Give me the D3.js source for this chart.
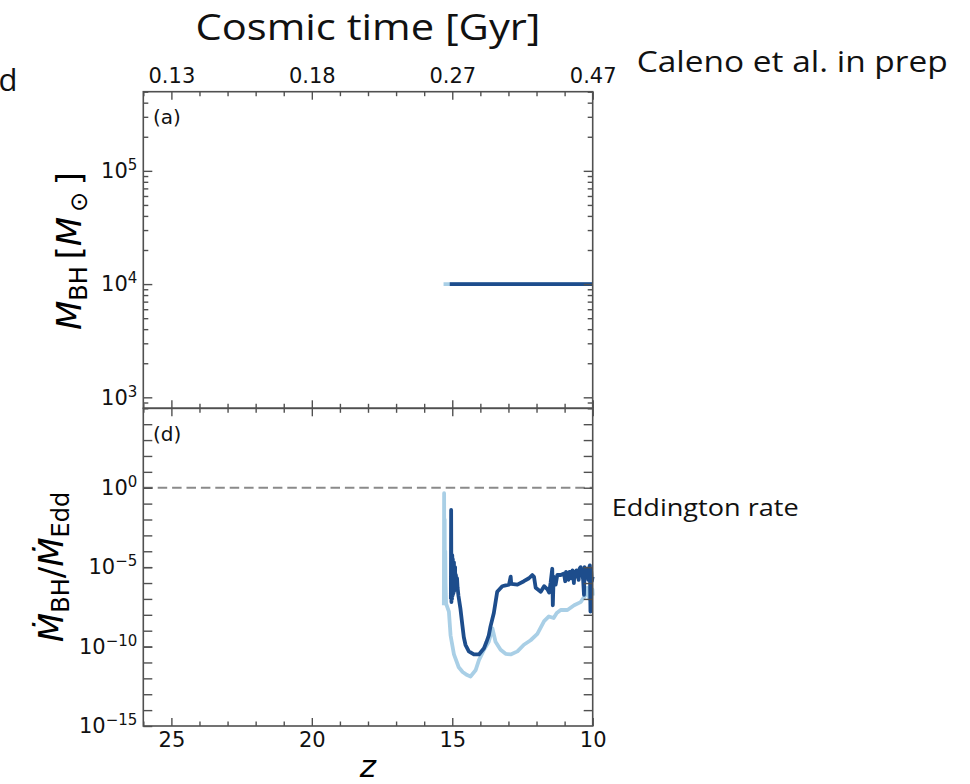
<!DOCTYPE html>
<html>
<head>
<meta charset="utf-8">
<script src="https://cdn.jsdelivr.net/npm/d3@7"></script>
<style>
  html, body { margin: 0; padding: 0; background: #fff; }
  svg { display: block; }
  .tick text { font-family: "DejaVu Sans", sans-serif; fill: #111; }
</style>
</head>
<body>
<svg id="chart" width="970" height="784"></svg>
<script>
// ---- data ----
const zTicks = [25, 20, 15, 10];
const zMinorTicks = [26, 24, 23, 22, 21, 19, 18, 17, 16, 14, 13, 12, 11];
const timeLabels = ["0.13", "0.18", "0.27", "0.47"];
const massTicks = [1e3, 1e4, 1e5];
const rateTicks = [1e-15, 1e-10, 1e-5, 1e0];
const eddingtonRate = 1;

// panel (a): black-hole mass vs redshift
const massZLight = [15.31, 10.0];
const massLight = [1e4, 1e4];
const massZDark = [15.09, 10.0];
const massDark = [1e4, 1e4];

// panel (d): accretion rate in Eddington units
const rateZLight = [15.30, 15.29, 15.28, 15.27, 15.26, 15.25, 15.24, 15.22, 15.12, 15.06,
  14.94, 14.77, 14.63, 14.47, 14.35, 14.17, 14.05, 13.87, 13.70, 13.57,
  13.46, 13.28, 13.10, 12.92, 12.68, 12.45, 12.21, 11.97, 11.73, 11.56,
  11.39, 11.28, 11.14, 10.90, 10.66, 10.43, 10.25, 10.19, 10.12, 10.01, 10.0];
const rateLight = [4.0e-8, 4.5e-1, 3.2e-7, 1.0e-2, 5.0e-8, 1.0e-4, 1.0e-6, 5.0e-8, 1.6e-8, 5.0e-10,
  3.2e-11, 5.0e-12, 2.5e-12, 1.6e-12, 1.3e-12, 3.2e-12, 1.4e-11, 6.3e-11, 2.0e-10, 1.4e-9,
  2.0e-10, 6.3e-11, 3.5e-11, 3.2e-11, 5.0e-11, 1.3e-10, 2.5e-10, 6.3e-10, 4.0e-9, 7.9e-9,
  6.3e-9, 1.3e-8, 2.0e-8, 2.0e-8, 4.0e-8, 6.3e-8, 1.8e-7, 5.0e-7, 1.0e-7, 4.0e-7, 1.6e-7];

const rateZDark = [15.05, 15.04, 15.03, 15.02, 15.01, 15.00, 14.99, 14.98, 14.97, 14.96,
  14.95, 14.94, 14.93, 14.92, 14.91, 14.90, 14.89, 14.87, 14.85, 14.83,
  14.81, 14.78, 14.71, 14.64, 14.59, 14.53, 14.41, 14.23, 14.05, 13.87,
  13.78, 13.70, 13.64, 13.52, 13.40, 13.22, 13.10, 12.98, 12.92, 12.90,
  12.68, 12.45, 12.27, 12.15, 12.09, 12.03, 11.85, 11.73, 11.61, 11.55,
  11.50, 11.44, 11.42, 11.39, 11.32, 11.26, 11.14, 11.02, 10.98, 10.95,
  10.92, 10.90, 10.86, 10.83, 10.79, 10.75, 10.72, 10.69, 10.67, 10.65,
  10.61, 10.58, 10.54, 10.50, 10.47, 10.43, 10.40, 10.38, 10.34, 10.31,
  10.29, 10.25, 10.22, 10.19, 10.16, 10.14, 10.12, 10.10, 10.08, 10.06,
  10.03, 10.0];
const rateDark = [1.0e-7, 4.0e-2, 6.3e-8, 1.0e-5, 1.0e-7, 5.6e-5, 1.6e-7, 3.2e-5, 2.0e-7, 1.0e-5,
  2.5e-7, 2.0e-5, 3.2e-7, 4.0e-6, 4.0e-7, 1.0e-5, 5.0e-7, 3.2e-6, 6.3e-7, 2.0e-6,
  5.0e-7, 1.6e-7, 2.5e-8, 2.2e-9, 4.0e-10, 1.3e-10, 5.0e-11, 3.2e-11, 3.2e-11, 7.9e-11,
  2.0e-10, 5.0e-10, 1.8e-9, 1.3e-8, 2.8e-7, 6.3e-7, 7.1e-7, 7.9e-7, 2.5e-6, 8.9e-7,
  7.9e-7, 1.3e-6, 2.0e-6, 3.2e-6, 2.5e-6, 5.0e-7, 2.8e-7, 6.3e-7, 4.0e-7, 2.5e-7,
  1.0e-6, 7.9e-6, 4.0e-8, 2.5e-6, 7.9e-7, 3.2e-6, 3.2e-6, 4.0e-6, 1.3e-6, 5.0e-6,
  2.0e-6, 3.2e-6, 1.6e-6, 5.0e-6, 5.0e-6, 2.0e-6, 6.3e-6, 3.2e-6, 1.0e-6, 5.0e-6,
  2.5e-6, 6.3e-6, 4.0e-6, 1.6e-6, 7.9e-6, 1.0e-5, 3.2e-6, 5.0e-6, 1.6e-6, 1.8e-7,
  1.0e-5, 3.2e-6, 7.9e-6, 6.3e-6, 1.6e-6, 2.5e-6, 1.0e-5, 1.3e-5, 1.6e-8, 7.9e-6,
  1.3e-6, 2.5e-6];

// ---- layout ----
const L = 143.3, R = 592.7, T = 91.7, MID = 408.3, B = 726;
const colLight = "#a9cfe6";
const colDark = "#1d4d8c";
const axisCol = "#505050";
const labelFont = "'Open Sans', 'Noto Sans', sans-serif";
const mathFont = "'DejaVu Sans', sans-serif";
const lw = 3.8;

const svg = d3.select("#chart");

const x = d3.scaleLinear().domain([26, 10]).range([L, R]);
const ya = d3.scaleLog().domain([800, 5e5]).range([MID, T]);
const yd = d3.scaleLog().domain([1e-15, 1e5]).range([B, MID]);

// ---- series ----
const line = (xs, ys, yScale) => d3.line()
  .x((d, i) => x(xs[i]))
  .y((d, i) => yScale(ys[i]))(ys);

const plot = svg.append("g");
// Eddington reference line
plot.append("line")
  .attr("x1", L).attr("x2", R)
  .attr("y1", yd(eddingtonRate)).attr("y2", yd(eddingtonRate))
  .attr("stroke", "#8a8a8a").attr("stroke-width", 2.2)
  .attr("stroke-dasharray", "9.5,4.9");

plot.append("path").attr("d", line(massZLight, massLight, ya))
  .attr("fill", "none").attr("stroke", colLight).attr("stroke-width", lw);
plot.append("path").attr("d", line(massZDark, massDark, ya))
  .attr("fill", "none").attr("stroke", colDark).attr("stroke-width", lw);
plot.append("path").attr("d", line(rateZLight, rateLight, yd))
  .attr("fill", "none").attr("stroke", colLight).attr("stroke-width", lw)
  .attr("stroke-linejoin", "round");
plot.append("path").attr("d", line(rateZDark, rateDark, yd))
  .attr("fill", "none").attr("stroke", colDark).attr("stroke-width", lw)
  .attr("stroke-linejoin", "round");

// ---- axes ----
function styleAxis(g) {
  g.select(".domain").remove();
  g.selectAll(".tick line").attr("stroke", axisCol).attr("stroke-width", 1.4);
}
function sup(sel) {
  sel.each(function(d) {
    const t = d3.select(this);
    const e = Math.round(Math.log10(d));
    const ex = e < 0 ? "\u2212" + Math.abs(e) : String(e);
    t.text(null);
    t.append("tspan").text("10");
    t.append("tspan").attr("font-size", 15).attr("dy", -8).text(ex);
  });
}
const fs = 21;

// x axes: bottom of (d), top of (a), and the shared boundary
const xBottomMajor = svg.append("g").attr("transform", `translate(0,${B})`)
  .call(d3.axisBottom(x).tickValues(zTicks).tickSize(-8).tickPadding(6).tickFormat(d3.format("d")));
xBottomMajor.selectAll("text").attr("font-size", fs);
styleAxis(xBottomMajor);
styleAxis(svg.append("g").attr("transform", `translate(0,${B})`)
  .call(d3.axisBottom(x).tickValues(zMinorTicks).tickSize(-4.5).tickFormat("")));

const xTopMajor = svg.append("g").attr("transform", `translate(0,${T})`)
  .call(d3.axisTop(x).tickValues(zTicks).tickSize(-8).tickPadding(8.5)
    .tickFormat((d, i) => timeLabels[i]));
xTopMajor.selectAll("text").attr("font-size", fs);
styleAxis(xTopMajor);
styleAxis(svg.append("g").attr("transform", `translate(0,${T})`)
  .call(d3.axisTop(x).tickValues(zMinorTicks).tickSize(-4.5).tickFormat("")));

// shared boundary: ticks pointing into both panels
[8, -8].forEach(s => {
  styleAxis(svg.append("g").attr("transform", `translate(0,${MID})`)
    .call(d3.axisBottom(x).tickValues(zTicks).tickSize(s).tickFormat("")));
});
[4.5, -4.5].forEach(s => {
  styleAxis(svg.append("g").attr("transform", `translate(0,${MID})`)
    .call(d3.axisBottom(x).tickValues(zMinorTicks).tickSize(s).tickFormat("")));
});

// panel (a) y axes
const massMinor = [];
[100, 1000, 10000, 100000].forEach(dec => {
  for (let k = 2; k <= 9; k++) {
    const v = dec * k;
    if (v >= 800 && v <= 5e5) massMinor.push(v);
  }
});
const yaLeft = svg.append("g").attr("transform", `translate(${L},0)`)
  .call(d3.axisLeft(ya).tickValues(massTicks).tickSize(-9).tickPadding(6));
yaLeft.selectAll("text").attr("font-size", fs).call(sup);
styleAxis(yaLeft);
styleAxis(svg.append("g").attr("transform", `translate(${L},0)`)
  .call(d3.axisLeft(ya).tickValues(massMinor).tickSize(-5).tickFormat("")));
styleAxis(svg.append("g").attr("transform", `translate(${R},0)`)
  .call(d3.axisRight(ya).tickValues(massTicks).tickSize(-9).tickFormat("")));
styleAxis(svg.append("g").attr("transform", `translate(${R},0)`)
  .call(d3.axisRight(ya).tickValues(massMinor).tickSize(-5).tickFormat("")));

// panel (d) y axes
const rateDecades = d3.range(-14, 5).map(e => Math.pow(10, e));
const ydLeft = svg.append("g").attr("transform", `translate(${L},0)`)
  .call(d3.axisLeft(yd).tickValues(rateTicks).tickSize(-9).tickPadding(6));
ydLeft.selectAll("text").attr("font-size", fs).call(sup);
styleAxis(ydLeft);
styleAxis(svg.append("g").attr("transform", `translate(${L},0)`)
  .call(d3.axisLeft(yd).tickValues(rateDecades).tickSize(-9).tickFormat("")));
styleAxis(svg.append("g").attr("transform", `translate(${R},0)`)
  .call(d3.axisRight(yd).tickValues(rateDecades).tickSize(-9).tickFormat("")));

// frames
[[T, MID], [MID, B]].forEach(([t, b]) => {
  svg.append("rect").attr("x", L).attr("y", t).attr("width", R - L).attr("height", b - t)
    .attr("fill", "none").attr("stroke", axisCol).attr("stroke-width", 1.6);
});

// panel tags
svg.append("text").attr("x", 153).attr("y", 124).attr("font-family", mathFont)
  .attr("font-size", 20).attr("fill", "#111").text("(a)");
svg.append("text").attr("x", 153).attr("y", 441).attr("font-family", mathFont)
  .attr("font-size", 20).attr("fill", "#111").text("(d)");

// axis titles
const ylabA = svg.append("text").attr("transform", "translate(81,251) rotate(-90)")
  .attr("text-anchor", "middle").attr("font-family", mathFont).attr("font-size", 34).attr("fill", "#000");
ylabA.append("tspan").attr("font-style", "italic").text("M");
ylabA.append("tspan").attr("font-size", 24).attr("dy", 6).text("BH");
ylabA.append("tspan").attr("dy", -6).text("\u2009[");
ylabA.append("tspan").attr("font-style", "italic").text("M");
ylabA.append("tspan").attr("font-size", 24).attr("dy", 6).text("\u2009\u2299");
ylabA.append("tspan").attr("dy", -6).text("\u2009]");

const ylabD = svg.append("text").attr("transform", "translate(63,567) rotate(-90)")
  .attr("text-anchor", "middle").attr("font-family", mathFont).attr("font-size", 34).attr("fill", "#000");
ylabD.append("tspan").attr("font-style", "italic").text("\u1E40");
ylabD.append("tspan").attr("font-size", 24).attr("dy", 6).text("BH");
ylabD.append("tspan").attr("dy", -6).text("/");
ylabD.append("tspan").attr("font-style", "italic").text("\u1E40");
ylabD.append("tspan").attr("font-size", 24).attr("dy", 6).text("Edd");

svg.append("text").attr("x", 368).attr("y", 777).attr("text-anchor", "middle")
  .attr("font-family", mathFont).attr("font-style", "italic").attr("font-size", 31)
  .attr("fill", "#000").text("z");

// annotations
svg.append("text").attr("x", 368).attr("y", 40).attr("text-anchor", "middle")
  .attr("font-family", labelFont).attr("font-size", 37).attr("fill", "#111")
  .attr("textLength", 345).attr("lengthAdjust", "spacingAndGlyphs").text("Cosmic time [Gyr]");
svg.append("text").attr("x", 636.7).attr("y", 71.7)
  .attr("font-family", labelFont).attr("font-size", 30).attr("fill", "#111")
  .attr("textLength", 311).attr("lengthAdjust", "spacingAndGlyphs").text("Caleno et al. in prep");
svg.append("text").attr("x", 611.7).attr("y", 515.7)
  .attr("font-family", labelFont).attr("font-size", 23).attr("fill", "#111")
  .attr("textLength", 187).attr("lengthAdjust", "spacingAndGlyphs").text("Eddington rate");
svg.append("text").attr("x", -1.5).attr("y", 91).attr("font-family", labelFont)
  .attr("font-size", 31).attr("fill", "#111").text("d");
</script>
</body>
</html>
